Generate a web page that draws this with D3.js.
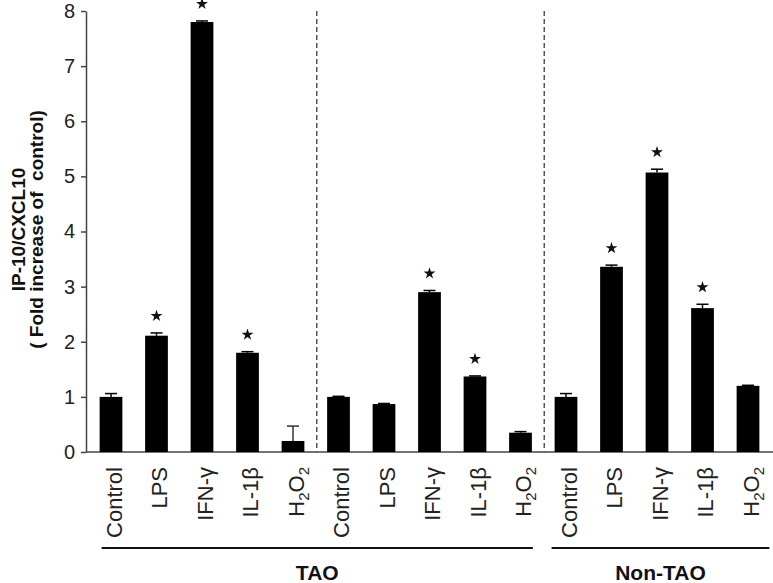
<!DOCTYPE html>
<html>
<head>
<meta charset="utf-8">
<script src="https://cdn.jsdelivr.net/npm/d3@7"></script>
<style>
  html, body { margin: 0; padding: 0; background: #fff; }
  svg { display: block; font-family: "Liberation Sans", Arial, sans-serif; }
</style>
</head>
<body>
<div id="chart"></div>
<script>
/* IP-10/CXCL10 fold-increase bar chart, TAO vs Non-TAO */

const treatments = ["Control", "LPS", "IFN-γ", "IL-1β", "H2O2"];
const barLabels = [...treatments, ...treatments, ...treatments];
const values  = [1.00, 2.11, 7.80, 1.80, 0.20, 1.00, 0.87, 2.90, 1.37, 0.35, 1.00, 3.36, 5.07, 2.61, 1.20];
const errors  = [0.06, 0.05, 0.02, 0.02, 0.27, 0.01, 0.01, 0.03, 0.01, 0.02, 0.06, 0.03, 0.06, 0.07, 0.01];
const starred = [false, true, true, true, false, false, false, true, true, false, false, true, true, true, false];
const groupNames = ["TAO", "Non-TAO"];
const groupSpans = [[0, 9], [10, 14]];
const dividerAfter = [4, 9];
const yTicks = [0, 1, 2, 3, 4, 5, 6, 7, 8];

const width = 773, height = 583;
const axisX = 86;

const svg = d3.select("#chart").append("svg")
  .attr("width", width)
  .attr("height", height);

const ids = barLabels.map((_, i) => i);

const x = d3.scaleBand()
  .domain(ids)
  .range([88.25, 770.75])
  .paddingInner(0.5)
  .paddingOuter(0.25);

const y = d3.scaleLinear()
  .domain([0, 8])
  .range([452, 11]);

// y axis
const yAxis = svg.append("g")
  .attr("transform", `translate(${axisX},0)`)
  .call(d3.axisLeft(y).tickValues(yTicks).tickSize(5).tickPadding(6).tickSizeOuter(0));
yAxis.select(".domain").attr("stroke", "#444").attr("stroke-width", 1.5);
yAxis.selectAll(".tick line").attr("stroke", "#444").attr("stroke-width", 1.5);
yAxis.selectAll(".tick text")
  .attr("font-size", 20)
  .attr("fill", "#222")
  .attr("font-family", "Liberation Sans, Arial, sans-serif");

// baseline
svg.append("line")
  .attr("x1", axisX).attr("x2", width)
  .attr("y1", y(0)).attr("y2", y(0))
  .attr("stroke", "#444").attr("stroke-width", 1.5);

// dashed dividers between panels
dividerAfter.forEach(i => {
  const xd = (x(i) + x.bandwidth() + x(i + 1)) / 2 + 1;
  svg.append("line")
    .attr("x1", xd).attr("x2", xd)
    .attr("y1", y(8)).attr("y2", y(0))
    .attr("stroke", "#555")
    .attr("stroke-width", 1.5)
    .attr("stroke-dasharray", "5,3");
});

// bars
svg.selectAll(".bar")
  .data(ids)
  .join("rect")
  .attr("class", "bar")
  .attr("x", i => x(i))
  .attr("width", x.bandwidth())
  .attr("y", i => y(values[i]))
  .attr("height", i => y(0) - y(values[i]))
  .attr("fill", "#000");

// error bars (upper only)
const capHalf = 6;
ids.forEach(i => {
  const cx = x(i) + x.bandwidth() / 2;
  const top = y(values[i] + errors[i]);
  const g = svg.append("g").attr("stroke", errors[i] > 0.1 ? "#333" : "#000").attr("stroke-width", 1.5);
  g.append("line").attr("x1", cx).attr("x2", cx).attr("y1", y(values[i])).attr("y2", top);
  g.append("line").attr("x1", cx - capHalf).attr("x2", cx + capHalf).attr("y1", top).attr("y2", top);
});

// significance stars
svg.selectAll(".star")
  .data(ids.filter(i => starred[i]))
  .join("path")
  .attr("class", "star")
  .attr("d", d3.symbol().type(d3.symbolStar).size(44))
  .attr("transform", i => `translate(${x(i) + x.bandwidth() / 2},${y(values[i] + errors[i]) - 17})`)
  .attr("fill", "#111");

// rotated category labels
ids.forEach(i => {
  const cx = x(i) + x.bandwidth() / 2;
  const t = svg.append("text")
    .attr("transform", `translate(${cx + 3},467) rotate(-90)`)
    .attr("text-anchor", "end")
    .attr("dy", "0.35em")
    .attr("font-size", 22)
    .attr("fill", "#222");
  const lab = barLabels[i];
  if (lab === "H2O2") {
    t.append("tspan").text("H");
    t.append("tspan").attr("font-size", 15).attr("dy", 5).text("2");
    t.append("tspan").attr("dy", -5).text("O");
    t.append("tspan").attr("font-size", 15).attr("dy", 5).text("2");
  } else {
    t.text(lab);
  }
});

// group underlines and names
const groupPad = [[2, 1], [-3, 10]];
groupSpans.forEach((span, gi) => {
  const x1 = x(span[0]) + groupPad[gi][0];
  const x2 = x(span[1]) + x.bandwidth() + groupPad[gi][1];
  svg.append("line")
    .attr("x1", x1).attr("x2", x2)
    .attr("y1", 548).attr("y2", 548)
    .attr("stroke", "#111").attr("stroke-width", 2);
  svg.append("text")
    .attr("x", (x1 + x2) / 2)
    .attr("y", 580)
    .attr("text-anchor", "middle")
    .attr("font-size", 21)
    .attr("font-weight", "bold")
    .attr("fill", "#111")
    .text(groupNames[gi]);
});

// y axis title
const yMid = (y(0) + y(8)) / 2 - 2;
svg.append("text")
  .attr("transform", `translate(18,${yMid}) rotate(-90)`)
  .attr("text-anchor", "middle")
  .attr("dy", "0.35em")
  .attr("font-size", 19)
  .attr("font-weight", "bold")
  .attr("fill", "#111")
  .text("IP-10/CXCL10");
svg.append("text")
  .attr("transform", `translate(36,${yMid}) rotate(-90)`)
  .attr("text-anchor", "middle")
  .attr("dy", "0.35em")
  .attr("font-size", 19)
  .attr("font-weight", "bold")
  .attr("fill", "#111")
  .attr("xml:space", "preserve")
  .style("white-space", "pre")
  .text("( Fold increase of  control)");
</script>
</body>
</html>
